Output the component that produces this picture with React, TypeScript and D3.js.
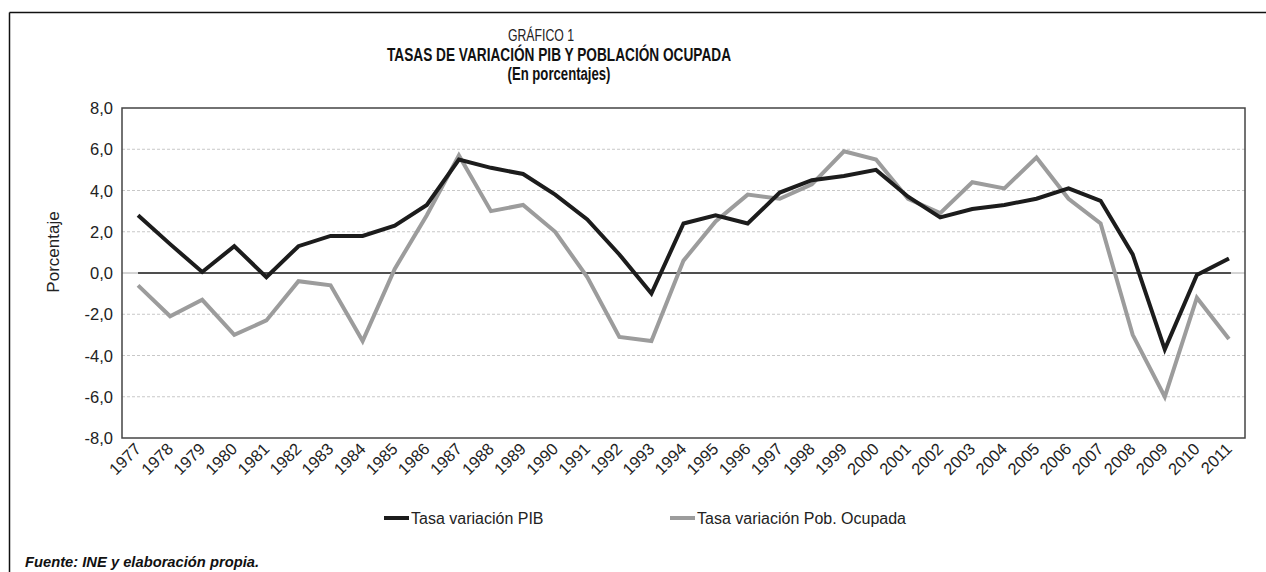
import React, { useEffect, useRef } from "react";
import * as d3 from "d3";

const years = [
  "1977", "1978", "1979", "1980", "1981", "1982", "1983", "1984", "1985", "1986",
  "1987", "1988", "1989", "1990", "1991", "1992", "1993", "1994", "1995", "1996",
  "1997", "1998", "1999", "2000", "2001", "2002", "2003", "2004", "2005", "2006",
  "2007", "2008", "2009", "2010", "2011",
];

const pib = [
  2.8, 1.4, 0.05, 1.3, -0.2, 1.3, 1.8, 1.8, 2.3, 3.3,
  5.5, 5.1, 4.8, 3.8, 2.6, 0.9, -1.0, 2.4, 2.8, 2.4,
  3.9, 4.5, 4.7, 5.0, 3.7, 2.7, 3.1, 3.3, 3.6, 4.1,
  3.5, 0.9, -3.7, -0.1, 0.7,
];

const pobOcupada = [
  -0.6, -2.1, -1.3, -3.0, -2.3, -0.4, -0.6, -3.3, 0.2, 2.8,
  5.7, 3.0, 3.3, 2.0, -0.2, -3.1, -3.3, 0.6, 2.5, 3.8,
  3.6, 4.3, 5.9, 5.5, 3.6, 2.9, 4.4, 4.1, 5.6, 3.6,
  2.4, -3.0, -6.0, -1.2, -3.2,
];

const yTicks = [-8, -6, -4, -2, 0, 2, 4, 6, 8];

const seriesNames = ["Tasa variación PIB", "Tasa variación Pob. Ocupada"];
const seriesColors = ["#1c1c1c", "#9c9c9c"];

const FONT = "'Liberation Sans', Arial, Helvetica, sans-serif";

function Chart() {
  const ref = useRef<SVGSVGElement>(null);

  useEffect(() => {
    const svg = d3.select(ref.current);
    svg.selectAll("*").remove();

    // plot area
    const margin = { top: 108, left: 122, right: 1245, bottom: 438 };

    const x = d3.scalePoint<string>()
      .domain(years)
      .range([margin.left, margin.right])
      .padding(0.5);

    const y = d3.scaleLinear()
      .domain([-8, 8])
      .range([margin.bottom, margin.top]);

    // outer frame (top + left only)
    svg.append("line")
      .attr("x1", 9.5).attr("x2", 1266)
      .attr("y1", 12.5).attr("y2", 12.5)
      .attr("stroke", "#111").attr("stroke-width", 1.5);
    svg.append("line")
      .attr("x1", 9.5).attr("x2", 9.5)
      .attr("y1", 12.5).attr("y2", 572)
      .attr("stroke", "#111").attr("stroke-width", 1.5);

    // titles
    svg.append("text")
      .attr("x", 541).attr("y", 41)
      .attr("text-anchor", "middle")
      .attr("font-family", FONT).attr("font-size", 17)
      .attr("fill", "#222")
      .attr("textLength", 66).attr("lengthAdjust", "spacingAndGlyphs")
      .text("GRÁFICO 1");
    svg.append("text")
      .attr("x", 559).attr("y", 61)
      .attr("text-anchor", "middle")
      .attr("font-family", FONT).attr("font-size", 18)
      .attr("font-weight", "bold").attr("fill", "#111")
      .attr("textLength", 344).attr("lengthAdjust", "spacingAndGlyphs")
      .text("TASAS DE VARIACIÓN PIB Y POBLACIÓN OCUPADA");
    svg.append("text")
      .attr("x", 559).attr("y", 80)
      .attr("text-anchor", "middle")
      .attr("font-family", FONT).attr("font-size", 18)
      .attr("font-weight", "bold").attr("fill", "#111")
      .attr("textLength", 103).attr("lengthAdjust", "spacingAndGlyphs")
      .text("(En porcentajes)");

    // grid lines
    svg.append("g")
      .selectAll("line")
      .data(yTicks.filter(d => d !== 8 && d !== -8))
      .join("line")
      .attr("x1", margin.left).attr("x2", margin.right)
      .attr("y1", d => y(d)).attr("y2", d => y(d))
      .attr("stroke", d => (d === 0 ? "#aaa" : "#c8c8c8"))
      .attr("stroke-width", 1)
      .attr("stroke-dasharray", d => (d === 0 ? null : "3,2"));

    // zero line across the data range
    svg.append("line")
      .attr("x1", x(years[0])!).attr("x2", x(years[years.length - 1])! + 2)
      .attr("y1", y(0)).attr("y2", y(0))
      .attr("stroke", "#222").attr("stroke-width", 1.5);

    // plot frame
    svg.append("rect")
      .attr("x", margin.left).attr("y", margin.top)
      .attr("width", margin.right - margin.left)
      .attr("height", margin.bottom - margin.top)
      .attr("fill", "none")
      .attr("stroke", "#444").attr("stroke-width", 1.5);

    // y tick labels
    svg.append("g")
      .selectAll("text")
      .data(yTicks)
      .join("text")
      .attr("x", 113)
      .attr("y", d => y(d) + 6)
      .attr("text-anchor", "end")
      .attr("font-family", FONT).attr("font-size", 16.5)
      .attr("fill", "#222")
      .text(d => d3.format(".1f")(d).replace(".", ",").replace("−", "-"));

    // y axis label
    svg.append("text")
      .attr("transform", "translate(59,252) rotate(-90)")
      .attr("text-anchor", "middle")
      .attr("font-family", FONT).attr("font-size", 17)
      .attr("fill", "#222")
      .text("Porcentaje");

    // x tick labels
    svg.append("g")
      .selectAll("text")
      .data(years)
      .join("text")
      .attr("transform", d => `translate(${x(d)! + 4},${450}) rotate(-45)`)
      .attr("text-anchor", "end")
      .attr("font-family", FONT).attr("font-size", 16.5)
      .attr("fill", "#222")
      .text(d => d);

    // series lines
    const line = d3.line<number>()
      .x((d, i) => x(years[i])!)
      .y(d => y(d));

    [pobOcupada, pib].forEach((vals, k) => {
      const idx = k === 0 ? 1 : 0;
      svg.append("path")
        .datum(vals)
        .attr("d", line)
        .attr("fill", "none")
        .attr("stroke", seriesColors[idx])
        .attr("stroke-width", 4)
        .attr("stroke-linejoin", "miter");
    });

    // legend
    const legendX = [384, 670];
    const leg = svg.append("g")
      .selectAll("g")
      .data(seriesNames)
      .join("g")
      .attr("transform", (d, i) => `translate(${legendX[i]},518)`);
    leg.append("line")
      .attr("x1", 0).attr("x2", 25)
      .attr("y1", 0).attr("y2", 0)
      .attr("stroke", (d, i) => seriesColors[i])
      .attr("stroke-width", 4);
    leg.append("text")
      .attr("x", 27).attr("y", 6)
      .attr("font-family", FONT).attr("font-size", 16)
      .attr("fill", "#222")
      .text(d => d);

    // source
    svg.append("text")
      .attr("x", 25).attr("y", 567)
      .attr("font-family", FONT).attr("font-size", 15)
      .attr("font-weight", "bold").attr("font-style", "italic")
      .attr("fill", "#111")
      .attr("textLength", 234).attr("lengthAdjust", "spacingAndGlyphs")
      .text("Fuente: INE y elaboración propia.");
  }, []);

  return (
    <svg
      ref={ref}
      width={1266}
      height={572}
      style={{ position: "absolute", left: 0, top: 0, background: "#fff" }}
    />
  );
}

export default function App() {
  return <Chart />;
}
